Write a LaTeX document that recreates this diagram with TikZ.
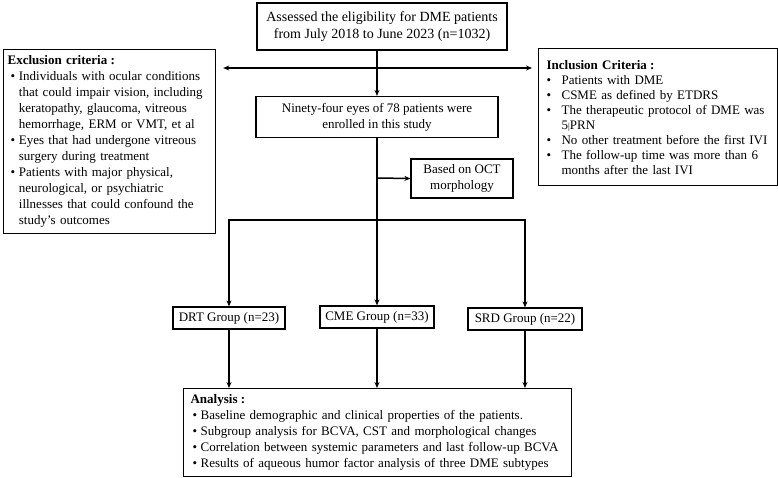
\documentclass[tikz,border=0pt]{standalone}
\usepackage{fontspec}
\setmainfont{Liberation Serif}
\usetikzlibrary{arrows.meta}
\newcommand{\bul}[3]{\par\noindent\hangindent=#2\hangafter=1\makebox[#2][l]{\hspace*{#1}\textbullet}\ignorespaces#3}
\begin{document}
\begin{tikzpicture}[x=1pt,y=-1pt,
  box/.style={draw,line width=1.2pt,fill=white,inner sep=0pt,font=\fontsize{13}{16}\selectfont},
  listbox/.style={box,anchor=north west,align=left},
  ln/.style={line width=1.5pt},
  arr/.style={ln,-{Stealth[length=6pt,width=5pt]}}]
\useasboundingbox (0,0) rectangle (778,477);

\node[box,minimum width=250pt,minimum height=47pt,align=center,font=\fontsize{14}{17}\selectfont] (top) at (382,26.5)
  {Assessed the eligibility for DME patients\\from July 2018 to June 2023 (n=1032)};

\node[box,minimum width=242pt,minimum height=41pt,align=center] (enr) at (377,117)
  {Ninety-four eyes of 78 patients were\\enrolled in this study};

\node[listbox,text width=204pt,inner xsep=4pt,minimum height=184pt] (exc) at (3,49) {%
  \parindent=0pt\textbf{Exclusion criteria\hspace{0.25em}:}
  \bul{3pt}{11.3pt}{Individuals with ocular conditions\newline that could impair vision, including\newline keratopathy, glaucoma, vitreous\newline hemorrhage, ERM or VMT, et al}
  \bul{3pt}{11.3pt}{Eyes that had undergone vitreous\newline surgery during treatment}
  \bul{3pt}{11.3pt}{Patients with major physical,\newline neurological, or psychiatric\newline illnesses that could confound the\newline study's outcomes}\par};

\node[listbox,text width=223pt,inner xsep=8pt,minimum height=137pt,font=\fontsize{13}{15}\selectfont] (inc) at (538,48) {%
  \parindent=0pt\textbf{Inclusion Criteria\hspace{0.25em}:}
  \bul{0pt}{15pt}{Patients with DME}
  \bul{0pt}{15pt}{CSME as defined by ETDRS}
  \bul{0pt}{15pt}{The therapeutic protocol of DME was\newline 5{\small|}PRN}
  \bul{0pt}{15pt}{No other treatment before the first IVI}
  \bul{0pt}{15pt}{The follow-up time was more than 6\newline months after the last IVI}\par};

\node[box,minimum width=102pt,minimum height=39pt,align=center] (oct) at (462,178.5)
  {Based on OCT\\morphology};

\node[box,minimum width=112pt,minimum height=22pt] (drt) at (229,318) {DRT Group (n=23)};
\node[box,minimum width=114pt,minimum height=22pt] (cme) at (377,317) {CME Group (n=33)};
\node[box,minimum width=114pt,minimum height=22pt] (srd) at (525,319) {SRD Group (n=22)};

\node[listbox,text width=374pt,inner xsep=7pt,minimum height=88pt] (ana) at (183,388) {%
  \parindent=0pt\textbf{Analysis\hspace{0.25em}:}
  \bul{2pt}{10pt}{Baseline demographic and clinical properties of the patients.}
  \bul{2pt}{10pt}{Subgroup analysis for BCVA, CST and morphological changes}
  \bul{2pt}{10pt}{Correlation between systemic parameters and last follow-up BCVA}
  \bul{2pt}{10pt}{Results of aqueous humor factor analysis of three DME subtypes}\par};

\coordinate (j1) at (377,68);
\coordinate (j2) at (377,178);
\coordinate (j3) at (377,220);

\draw[arr] (top.south -| enr.north) -- (enr.north);
\draw[arr,shorten >=7pt] (j1) -- (exc.east |- j1);
\draw[arr,shorten >=6pt] (j1) -- (inc.west |- j1);
\draw[ln] (enr.south) -- (j3);
\draw[arr] (j2) -- (oct.west);
\draw[ln,line cap=rect] (drt.north |- j3) -- (srd.north |- j3);
\draw[arr] (drt.north |- j3) -- (drt.north);
\draw[arr] (j3) -- (cme.north);
\draw[arr] (srd.north |- j3) -- (srd.north);
\draw[arr] (drt.south) -- (drt.south |- ana.north);
\draw[arr] (cme.south) -- (cme.south |- ana.north);
\draw[arr] (srd.south) -- (srd.south |- ana.north);
\end{tikzpicture}
\end{document}
